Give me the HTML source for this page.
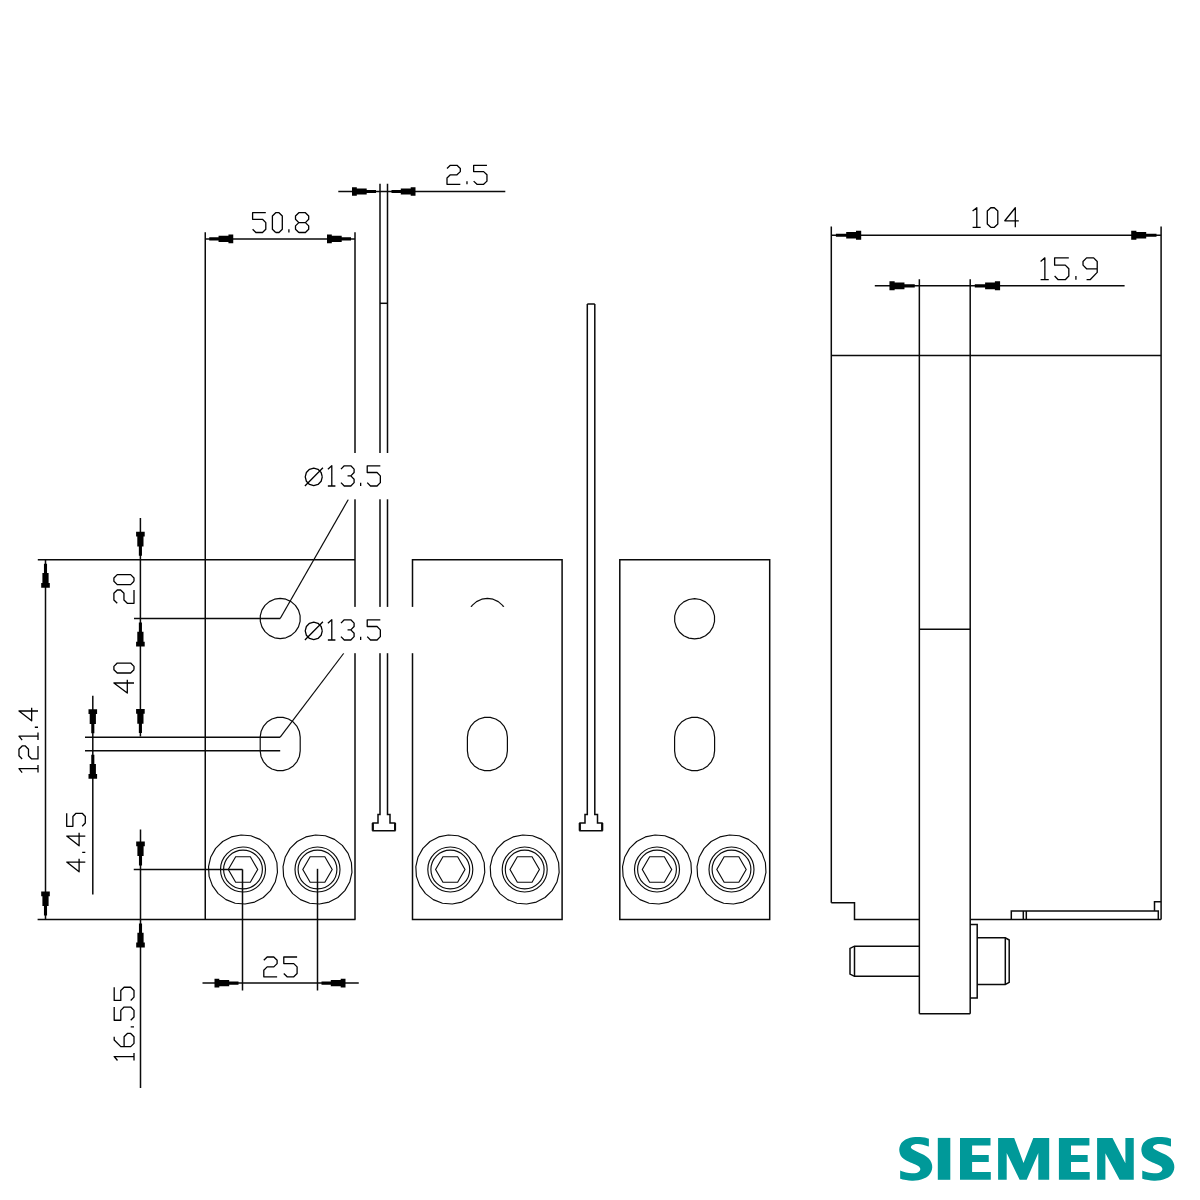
<!DOCTYPE html>
<html><head><meta charset="utf-8"><title>Drawing</title>
<style>html,body{margin:0;padding:0;background:#fff;}body{width:1200px;height:1200px;overflow:hidden;font-family:"Liberation Sans",sans-serif;}svg{display:block;}</style>
</head><body>
<svg width="1200" height="1200" viewBox="0 0 1200 1200" shape-rendering="geometricPrecision">
<rect x="0.00" y="0.00" width="1200.00" height="1200.00" fill="#fff"/>
<line x1="205.25" y1="232.20" x2="205.25" y2="919.40" stroke="#0a0a0a" stroke-width="1.5"/>
<line x1="355.00" y1="232.20" x2="355.00" y2="919.40" stroke="#0a0a0a" stroke-width="1.5"/>
<line x1="37.80" y1="559.70" x2="355.00" y2="559.70" stroke="#0a0a0a" stroke-width="1.5"/>
<line x1="37.60" y1="919.40" x2="355.50" y2="919.40" stroke="#0a0a0a" stroke-width="1.5"/>
<line x1="205.25" y1="238.90" x2="355.00" y2="238.90" stroke="#0a0a0a" stroke-width="1.5"/>
<polygon points="209.25,237.35 218.55,237.35 218.55,235.80 228.45,235.80 228.45,234.60 233.25,234.60 233.25,243.20 228.45,243.20 228.45,242.00 218.55,242.00 218.55,240.45 209.25,240.45" fill="#000"/>
<polygon points="351.00,237.35 341.70,237.35 341.70,235.80 331.80,235.80 331.80,234.60 327.00,234.60 327.00,243.20 331.80,243.20 331.80,242.00 341.70,242.00 341.70,240.45 351.00,240.45" fill="#000"/>
<polygon points="300.10,621.36 298.48,626.85 295.39,631.66 291.07,635.41 285.86,637.79 280.20,638.60 274.54,637.79 269.33,635.41 265.01,631.66 261.92,626.85 260.30,621.36 260.30,615.64 261.92,610.15 265.01,605.34 269.33,601.59 274.54,599.21 280.20,598.40 285.86,599.21 291.07,601.59 295.39,605.34 298.48,610.15 300.10,615.64" stroke="#0a0a0a" stroke-width="1.2" fill="none" stroke-linejoin="round"/>
<polygon points="260.20,737.20 261.01,731.57 263.37,726.39 267.10,722.09 271.89,719.01 277.35,717.40 283.05,717.40 288.51,719.01 293.30,722.09 297.03,726.39 299.39,731.57 300.20,737.20 300.20,750.80 299.39,756.43 297.03,761.61 293.30,765.91 288.51,768.99 283.05,770.60 277.35,770.60 271.89,768.99 267.10,765.91 263.37,761.61 261.01,756.43 260.20,750.80" stroke="#0a0a0a" stroke-width="1.2" fill="none" stroke-linejoin="round"/>
<line x1="134.00" y1="618.50" x2="280.20" y2="618.50" stroke="#0a0a0a" stroke-width="1.5"/>
<line x1="85.00" y1="737.20" x2="280.20" y2="737.20" stroke="#0a0a0a" stroke-width="1.5"/>
<line x1="85.00" y1="750.80" x2="280.20" y2="750.80" stroke="#0a0a0a" stroke-width="1.5"/>
<line x1="280.20" y1="618.50" x2="348.30" y2="499.50" stroke="#0a0a0a" stroke-width="1.2"/>
<line x1="280.20" y1="737.20" x2="343.75" y2="653.25" stroke="#0a0a0a" stroke-width="1.2"/>
<polygon points="277.47,872.46 275.24,882.05 270.40,890.63 263.34,897.49 254.63,902.09 244.98,904.04 235.16,903.20 225.99,899.63 218.19,893.61 212.40,885.65 209.09,876.37 208.53,866.54 210.76,856.95 215.60,848.37 222.66,841.51 231.37,836.91 241.02,834.96 250.84,835.80 260.01,839.37 267.81,845.39 273.60,853.35 276.91,862.63" stroke="#0a0a0a" stroke-width="1.15" fill="none" stroke-linejoin="round"/>
<circle cx="243.00" cy="869.50" r="22.50" stroke="#0a0a0a" stroke-width="1.15" fill="none"/>
<circle cx="243.00" cy="869.50" r="19.40" stroke="#0a0a0a" stroke-width="1.15" fill="none"/>
<polygon points="257.70,869.50 250.35,882.23 235.65,882.23 228.30,869.50 235.65,856.77 250.35,856.77" stroke="#0a0a0a" stroke-width="1.15" fill="none"/>
<polygon points="351.97,872.46 349.74,882.05 344.90,890.63 337.84,897.49 329.13,902.09 319.48,904.04 309.66,903.20 300.49,899.63 292.69,893.61 286.90,885.65 283.59,876.37 283.03,866.54 285.26,856.95 290.10,848.37 297.16,841.51 305.87,836.91 315.52,834.96 325.34,835.80 334.51,839.37 342.31,845.39 348.10,853.35 351.41,862.63" stroke="#0a0a0a" stroke-width="1.15" fill="none" stroke-linejoin="round"/>
<circle cx="317.50" cy="869.50" r="22.50" stroke="#0a0a0a" stroke-width="1.15" fill="none"/>
<circle cx="317.50" cy="869.50" r="19.40" stroke="#0a0a0a" stroke-width="1.15" fill="none"/>
<polygon points="332.20,869.50 324.85,882.23 310.15,882.23 302.80,869.50 310.15,856.77 324.85,856.77" stroke="#0a0a0a" stroke-width="1.15" fill="none"/>
<line x1="133.75" y1="869.40" x2="242.50" y2="869.40" stroke="#0a0a0a" stroke-width="1.5"/>
<line x1="242.50" y1="869.40" x2="242.50" y2="990.50" stroke="#0a0a0a" stroke-width="1.5"/>
<line x1="317.50" y1="868.80" x2="317.50" y2="990.50" stroke="#0a0a0a" stroke-width="1.5"/>
<line x1="202.50" y1="983.10" x2="358.75" y2="983.10" stroke="#0a0a0a" stroke-width="1.5"/>
<polygon points="238.50,981.55 229.20,981.55 229.20,980.00 219.30,980.00 219.30,978.80 214.50,978.80 214.50,987.40 219.30,987.40 219.30,986.20 229.20,986.20 229.20,984.65 238.50,984.65" fill="#000"/>
<polygon points="321.50,981.55 330.80,981.55 330.80,980.00 340.70,980.00 340.70,978.80 345.50,978.80 345.50,987.40 340.70,987.40 340.70,986.20 330.80,986.20 330.80,984.65 321.50,984.65" fill="#000"/>
<line x1="140.40" y1="518.00" x2="140.40" y2="736.50" stroke="#0a0a0a" stroke-width="1.5"/>
<polygon points="138.85,555.70 138.85,546.40 137.30,546.40 137.30,536.50 136.10,536.50 136.10,531.70 144.70,531.70 144.70,536.50 143.50,536.50 143.50,546.40 141.95,546.40 141.95,555.70" fill="#000"/>
<polygon points="138.85,622.50 138.85,631.80 137.30,631.80 137.30,641.70 136.10,641.70 136.10,646.50 144.70,646.50 144.70,641.70 143.50,641.70 143.50,631.80 141.95,631.80 141.95,622.50" fill="#000"/>
<polygon points="138.85,733.00 138.85,723.70 137.30,723.70 137.30,713.80 136.10,713.80 136.10,709.00 144.70,709.00 144.70,713.80 143.50,713.80 143.50,723.70 141.95,723.70 141.95,733.00" fill="#000"/>
<line x1="140.50" y1="829.50" x2="140.50" y2="1088.00" stroke="#0a0a0a" stroke-width="1.5"/>
<polygon points="138.95,865.40 138.95,856.10 137.40,856.10 137.40,846.20 136.20,846.20 136.20,841.40 144.80,841.40 144.80,846.20 143.60,846.20 143.60,856.10 142.05,856.10 142.05,865.40" fill="#000"/>
<polygon points="138.95,923.40 138.95,932.70 137.40,932.70 137.40,942.60 136.20,942.60 136.20,947.40 144.80,947.40 144.80,942.60 143.60,942.60 143.60,932.70 142.05,932.70 142.05,923.40" fill="#000"/>
<line x1="92.80" y1="695.70" x2="92.80" y2="894.50" stroke="#0a0a0a" stroke-width="1.5"/>
<polygon points="91.25,733.20 91.25,723.90 89.70,723.90 89.70,714.00 88.50,714.00 88.50,709.20 97.10,709.20 97.10,714.00 95.90,714.00 95.90,723.90 94.35,723.90 94.35,733.20" fill="#000"/>
<polygon points="91.25,754.80 91.25,764.10 89.70,764.10 89.70,774.00 88.50,774.00 88.50,778.80 97.10,778.80 97.10,774.00 95.90,774.00 95.90,764.10 94.35,764.10 94.35,754.80" fill="#000"/>
<line x1="45.50" y1="559.70" x2="45.50" y2="919.40" stroke="#0a0a0a" stroke-width="1.5"/>
<polygon points="43.95,563.70 43.95,573.00 42.40,573.00 42.40,582.90 41.20,582.90 41.20,587.70 49.80,587.70 49.80,582.90 48.60,582.90 48.60,573.00 47.05,573.00 47.05,563.70" fill="#000"/>
<polygon points="43.95,915.40 43.95,906.10 42.40,906.10 42.40,896.20 41.20,896.20 41.20,891.40 49.80,891.40 49.80,896.20 48.60,896.20 48.60,906.10 47.05,906.10 47.05,915.40" fill="#000"/>
<path d="M380.0,183.8 L380.0,814.6 L378.0,814.6 L378.0,823.0 L373.0,823.0 L373.0,830.7 L394.8,830.7 L394.8,823.0 L390.0,823.0 L390.0,814.6 L387.5,814.6 L387.5,183.8" stroke="#0a0a0a" stroke-width="1.5" fill="none" />
<line x1="372.70" y1="823.00" x2="372.70" y2="830.70" stroke="#0a0a0a" stroke-width="2.0"/>
<line x1="395.10" y1="823.00" x2="395.10" y2="830.70" stroke="#0a0a0a" stroke-width="2.0"/>
<line x1="380.00" y1="303.30" x2="387.50" y2="303.30" stroke="#0a0a0a" stroke-width="1.5"/>
<line x1="338.30" y1="191.50" x2="505.30" y2="191.50" stroke="#0a0a0a" stroke-width="1.5"/>
<polygon points="376.00,189.95 366.70,189.95 366.70,188.40 356.80,188.40 356.80,187.20 352.00,187.20 352.00,195.80 356.80,195.80 356.80,194.60 366.70,194.60 366.70,193.05 376.00,193.05" fill="#000"/>
<polygon points="391.50,189.95 400.80,189.95 400.80,188.40 410.70,188.40 410.70,187.20 415.50,187.20 415.50,195.80 410.70,195.80 410.70,194.60 400.80,194.60 400.80,193.05 391.50,193.05" fill="#000"/>
<path d="M412.5,559.7 L562.1,559.7 L562.1,919.4 L412.5,919.4 Z" stroke="#0a0a0a" stroke-width="1.5" fill="none" />
<polygon points="507.30,621.36 505.68,626.85 502.59,631.66 498.27,635.41 493.06,637.79 487.40,638.60 481.74,637.79 476.53,635.41 472.21,631.66 469.12,626.85 467.50,621.36 467.50,615.64 469.12,610.15 472.21,605.34 476.53,601.59 481.74,599.21 487.40,598.40 493.06,599.21 498.27,601.59 502.59,605.34 505.68,610.15 507.30,615.64" stroke="#0a0a0a" stroke-width="1.2" fill="none" stroke-linejoin="round"/>
<polygon points="467.40,737.20 468.21,731.57 470.57,726.39 474.30,722.09 479.09,719.01 484.55,717.40 490.25,717.40 495.71,719.01 500.50,722.09 504.23,726.39 506.59,731.57 507.40,737.20 507.40,750.80 506.59,756.43 504.23,761.61 500.50,765.91 495.71,768.99 490.25,770.60 484.55,770.60 479.09,768.99 474.30,765.91 470.57,761.61 468.21,756.43 467.40,750.80" stroke="#0a0a0a" stroke-width="1.2" fill="none" stroke-linejoin="round"/>
<polygon points="484.77,872.46 482.54,882.05 477.70,890.63 470.64,897.49 461.93,902.09 452.28,904.04 442.46,903.20 433.29,899.63 425.49,893.61 419.70,885.65 416.39,876.37 415.83,866.54 418.06,856.95 422.90,848.37 429.96,841.51 438.67,836.91 448.32,834.96 458.14,835.80 467.31,839.37 475.11,845.39 480.90,853.35 484.21,862.63" stroke="#0a0a0a" stroke-width="1.15" fill="none" stroke-linejoin="round"/>
<circle cx="450.30" cy="869.50" r="22.50" stroke="#0a0a0a" stroke-width="1.15" fill="none"/>
<circle cx="450.30" cy="869.50" r="19.40" stroke="#0a0a0a" stroke-width="1.15" fill="none"/>
<polygon points="465.00,869.50 457.65,882.23 442.95,882.23 435.60,869.50 442.95,856.77 457.65,856.77" stroke="#0a0a0a" stroke-width="1.15" fill="none"/>
<polygon points="559.17,872.46 556.94,882.05 552.10,890.63 545.04,897.49 536.33,902.09 526.68,904.04 516.86,903.20 507.69,899.63 499.89,893.61 494.10,885.65 490.79,876.37 490.23,866.54 492.46,856.95 497.30,848.37 504.36,841.51 513.07,836.91 522.72,834.96 532.54,835.80 541.71,839.37 549.51,845.39 555.30,853.35 558.61,862.63" stroke="#0a0a0a" stroke-width="1.15" fill="none" stroke-linejoin="round"/>
<circle cx="524.70" cy="869.50" r="22.50" stroke="#0a0a0a" stroke-width="1.15" fill="none"/>
<circle cx="524.70" cy="869.50" r="19.40" stroke="#0a0a0a" stroke-width="1.15" fill="none"/>
<polygon points="539.40,869.50 532.05,882.23 517.35,882.23 510.00,869.50 517.35,856.77 532.05,856.77" stroke="#0a0a0a" stroke-width="1.15" fill="none"/>
<path d="M587.3,304.0 L587.3,814.6 L585.0,814.6 L585.0,823.0 L580.0,823.0 L580.0,830.7 L602.0,830.7 L602.0,823.0 L597.5,823.0 L597.5,814.6 L594.8,814.6 L594.8,304.0" stroke="#0a0a0a" stroke-width="1.5" fill="none" />
<line x1="579.70" y1="823.00" x2="579.70" y2="830.70" stroke="#0a0a0a" stroke-width="2.0"/>
<line x1="602.30" y1="823.00" x2="602.30" y2="830.70" stroke="#0a0a0a" stroke-width="2.0"/>
<line x1="587.30" y1="304.00" x2="594.80" y2="304.00" stroke="#0a0a0a" stroke-width="1.5"/>
<path d="M619.8,559.7 L769.7,559.7 L769.7,919.4 L619.8,919.4 Z" stroke="#0a0a0a" stroke-width="1.5" fill="none" />
<polygon points="714.50,621.66 712.88,627.15 709.79,631.96 705.47,635.71 700.26,638.09 694.60,638.90 688.94,638.09 683.73,635.71 679.41,631.96 676.32,627.15 674.70,621.66 674.70,615.94 676.32,610.45 679.41,605.64 683.73,601.89 688.94,599.51 694.60,598.70 700.26,599.51 705.47,601.89 709.79,605.64 712.88,610.45 714.50,615.94" stroke="#0a0a0a" stroke-width="1.2" fill="none" stroke-linejoin="round"/>
<polygon points="674.60,737.20 675.41,731.57 677.77,726.39 681.50,722.09 686.29,719.01 691.75,717.40 697.45,717.40 702.91,719.01 707.70,722.09 711.43,726.39 713.79,731.57 714.60,737.20 714.60,750.80 713.79,756.43 711.43,761.61 707.70,765.91 702.91,768.99 697.45,770.60 691.75,770.60 686.29,768.99 681.50,765.91 677.77,761.61 675.41,756.43 674.60,750.80" stroke="#0a0a0a" stroke-width="1.2" fill="none" stroke-linejoin="round"/>
<polygon points="691.47,872.46 689.24,882.05 684.40,890.63 677.34,897.49 668.63,902.09 658.98,904.04 649.16,903.20 639.99,899.63 632.19,893.61 626.40,885.65 623.09,876.37 622.53,866.54 624.76,856.95 629.60,848.37 636.66,841.51 645.37,836.91 655.02,834.96 664.84,835.80 674.01,839.37 681.81,845.39 687.60,853.35 690.91,862.63" stroke="#0a0a0a" stroke-width="1.15" fill="none" stroke-linejoin="round"/>
<circle cx="657.00" cy="869.50" r="22.50" stroke="#0a0a0a" stroke-width="1.15" fill="none"/>
<circle cx="657.00" cy="869.50" r="19.40" stroke="#0a0a0a" stroke-width="1.15" fill="none"/>
<polygon points="671.70,869.50 664.35,882.23 649.65,882.23 642.30,869.50 649.65,856.77 664.35,856.77" stroke="#0a0a0a" stroke-width="1.15" fill="none"/>
<polygon points="765.97,872.46 763.74,882.05 758.90,890.63 751.84,897.49 743.13,902.09 733.48,904.04 723.66,903.20 714.49,899.63 706.69,893.61 700.90,885.65 697.59,876.37 697.03,866.54 699.26,856.95 704.10,848.37 711.16,841.51 719.87,836.91 729.52,834.96 739.34,835.80 748.51,839.37 756.31,845.39 762.10,853.35 765.41,862.63" stroke="#0a0a0a" stroke-width="1.15" fill="none" stroke-linejoin="round"/>
<circle cx="731.50" cy="869.50" r="22.50" stroke="#0a0a0a" stroke-width="1.15" fill="none"/>
<circle cx="731.50" cy="869.50" r="19.40" stroke="#0a0a0a" stroke-width="1.15" fill="none"/>
<polygon points="746.20,869.50 738.85,882.23 724.15,882.23 716.80,869.50 724.15,856.77 738.85,856.77" stroke="#0a0a0a" stroke-width="1.15" fill="none"/>
<rect x="301.50" y="453.00" width="219.00" height="46.30" fill="#fff"/>
<rect x="301.50" y="606.90" width="219.00" height="46.30" fill="#fff"/>
<line x1="831.30" y1="226.40" x2="831.30" y2="902.70" stroke="#0a0a0a" stroke-width="1.5"/>
<line x1="1161.10" y1="226.40" x2="1161.10" y2="919.40" stroke="#0a0a0a" stroke-width="1.5"/>
<line x1="831.30" y1="235.30" x2="1161.10" y2="235.30" stroke="#0a0a0a" stroke-width="1.5"/>
<polygon points="835.90,233.75 846.20,233.75 846.20,232.00 856.00,232.00 856.00,230.80 861.20,230.80 861.20,239.80 856.00,239.80 856.00,238.60 846.20,238.60 846.20,236.85 835.90,236.85" fill="#000"/>
<polygon points="1156.50,233.75 1146.20,233.75 1146.20,232.00 1136.40,232.00 1136.40,230.80 1131.20,230.80 1131.20,239.80 1136.40,239.80 1136.40,238.60 1146.20,238.60 1146.20,236.85 1156.50,236.85" fill="#000"/>
<line x1="874.80" y1="285.85" x2="1124.60" y2="285.85" stroke="#0a0a0a" stroke-width="1.5"/>
<polygon points="914.75,284.30 904.45,284.30 904.45,282.55 894.65,282.55 894.65,281.35 889.45,281.35 889.45,290.35 894.65,290.35 894.65,289.15 904.45,289.15 904.45,287.40 914.75,287.40" fill="#000"/>
<polygon points="974.80,284.30 985.10,284.30 985.10,282.55 994.90,282.55 994.90,281.35 1000.10,281.35 1000.10,290.35 994.90,290.35 994.90,289.15 985.10,289.15 985.10,287.40 974.80,287.40" fill="#000"/>
<line x1="919.35" y1="279.30" x2="919.35" y2="1013.70" stroke="#0a0a0a" stroke-width="1.5"/>
<line x1="970.20" y1="279.30" x2="970.20" y2="1013.70" stroke="#0a0a0a" stroke-width="1.5"/>
<line x1="919.35" y1="1013.70" x2="970.20" y2="1013.70" stroke="#0a0a0a" stroke-width="1.5"/>
<line x1="831.30" y1="355.60" x2="1161.10" y2="355.60" stroke="#0a0a0a" stroke-width="1.5"/>
<line x1="919.35" y1="629.30" x2="970.20" y2="629.30" stroke="#0a0a0a" stroke-width="1.5"/>
<path d="M831.3,902.7 L854.5,902.7 L854.5,919.4 L919.35,919.4" stroke="#0a0a0a" stroke-width="1.5" fill="none" />
<line x1="970.20" y1="919.40" x2="1161.10" y2="919.40" stroke="#0a0a0a" stroke-width="1.5"/>
<path d="M1011.3,919.4 L1011.3,911 L1158.3,911 L1158.3,919.4" stroke="#0a0a0a" stroke-width="1.5" fill="none" />
<line x1="1023.30" y1="911.00" x2="1023.30" y2="919.40" stroke="#0a0a0a" stroke-width="1.5"/>
<line x1="1026.30" y1="911.00" x2="1026.30" y2="919.40" stroke="#0a0a0a" stroke-width="1.5"/>
<path d="M1154.5,911 L1154.5,901.7 L1161.1,901.7" stroke="#0a0a0a" stroke-width="1.5" fill="none" />
<path d="M919.35,946.2 L854.5,946.2 L850,948.4 L850,974.1 L854.5,976.3 L919.35,976.3" stroke="#0a0a0a" stroke-width="1.5" fill="none" />
<line x1="854.50" y1="946.20" x2="854.50" y2="976.30" stroke="#0a0a0a" stroke-width="1.5"/>
<path d="M970.2,924.5 L977.2,924.5 L977.2,998 L970.2,998" stroke="#0a0a0a" stroke-width="1.5" fill="none" />
<path d="M977.2,937.8 L1005.3,937.8 L1009.2,940 L1009.2,982.4 L1005.3,984.5 L977.2,984.5" stroke="#0a0a0a" stroke-width="1.5" fill="none" />
<line x1="1005.30" y1="937.80" x2="1005.30" y2="984.50" stroke="#0a0a0a" stroke-width="1.5"/>
<path d="M447.00,168.45L450.33,165.28L456.99,165.28L460.32,168.45L460.32,171.62L456.99,174.79L450.33,174.79L447.00,177.96L447.00,184.30L460.32,184.30 M466.98,184.30L466.98,181.13 M486.96,165.28L473.64,165.28L473.64,171.62L483.63,171.62L486.96,174.79L486.96,181.13L483.63,184.30L476.97,184.30L473.64,181.13" stroke="#000" stroke-width="1.3" fill="none" stroke-linecap="butt" stroke-linejoin="round"/>
<path d="M265.80,212.70L252.60,212.70L252.60,219.30L262.50,219.30L265.80,222.60L265.80,229.20L262.50,232.50L255.90,232.50L252.60,229.20 M275.70,232.50L272.40,229.20L272.40,216.00L275.70,212.70L279.00,212.70L282.30,216.00L282.30,229.20L279.00,232.50L275.70,232.50 M288.90,232.50L288.90,229.20 M298.80,232.50L295.50,229.20L295.50,225.90L298.80,222.60L295.50,219.30L295.50,216.00L298.80,212.70L305.40,212.70L308.70,216.00L308.70,219.30L305.40,222.60L308.70,225.90L308.70,229.20L305.40,232.50L298.80,232.50 M298.80,222.60L305.40,222.60" stroke="#000" stroke-width="1.3" fill="none" stroke-linecap="butt" stroke-linejoin="round"/>
<path d="M972.60,211.00L976.80,207.74L976.80,227.30 M972.60,227.30L980.65,227.30 M990.80,227.30L987.30,224.04L987.30,211.00L990.80,207.74L994.30,207.74L997.80,211.00L997.80,224.04L994.30,227.30L990.80,227.30 M1015.30,227.30L1015.30,207.74L1004.80,220.78L1018.80,220.78" stroke="#000" stroke-width="1.3" fill="none" stroke-linecap="butt" stroke-linejoin="round"/>
<path d="M1040.60,261.50L1044.86,257.86L1044.86,279.70 M1040.60,279.70L1048.76,279.70 M1068.82,257.86L1054.62,257.86L1054.62,265.14L1065.27,265.14L1068.82,268.78L1068.82,276.06L1065.27,279.70L1058.17,279.70L1054.62,276.06 M1075.92,279.70L1075.92,276.06 M1086.57,279.70L1090.12,279.70L1097.22,272.42L1097.22,261.50L1093.67,257.86L1086.57,257.86L1083.02,261.50L1083.02,265.14L1086.57,268.78L1097.22,268.78" stroke="#000" stroke-width="1.3" fill="none" stroke-linecap="butt" stroke-linejoin="round"/>
<path d="M322.28,476.90L321.14,472.52L318.02,469.31L313.76,468.14L309.49,469.31L306.37,472.52L305.23,476.90L306.37,481.28L309.49,484.49L313.76,485.66L318.02,484.49L321.14,481.28L322.28,476.90 M304.90,486.00L322.94,467.80 M327.86,469.15L331.80,465.78L331.80,486.00 M327.86,486.00L335.40,486.00 M340.98,469.15L344.26,465.78L350.82,465.78L354.10,469.15L354.10,472.52L350.82,475.89L347.54,475.89 M350.82,475.89L354.10,479.26L354.10,482.63L350.82,486.00L344.26,486.00L340.98,482.63 M360.66,486.00L360.66,482.63 M380.34,465.78L367.22,465.78L367.22,472.52L377.06,472.52L380.34,475.89L380.34,482.63L377.06,486.00L370.50,486.00L367.22,482.63" stroke="#000" stroke-width="1.3" fill="none" stroke-linecap="butt" stroke-linejoin="round"/>
<path d="M322.28,630.90L321.14,626.52L318.02,623.31L313.76,622.14L309.49,623.31L306.37,626.52L305.23,630.90L306.37,635.28L309.49,638.49L313.76,639.66L318.02,638.49L321.14,635.28L322.28,630.90 M304.90,640.00L322.94,621.80 M327.86,623.15L331.80,619.78L331.80,640.00 M327.86,640.00L335.40,640.00 M340.98,623.15L344.26,619.78L350.82,619.78L354.10,623.15L354.10,626.52L350.82,629.89L347.54,629.89 M350.82,629.89L354.10,633.26L354.10,636.63L350.82,640.00L344.26,640.00L340.98,636.63 M360.66,640.00L360.66,636.63 M380.34,619.78L367.22,619.78L367.22,626.52L377.06,626.52L380.34,629.89L380.34,636.63L377.06,640.00L370.50,640.00L367.22,636.63" stroke="#000" stroke-width="1.3" fill="none" stroke-linecap="butt" stroke-linejoin="round"/>
<path d="M263.80,960.30L267.13,957.00L273.79,957.00L277.12,960.30L277.12,963.60L273.79,966.90L267.13,966.90L263.80,970.20L263.80,976.80L277.12,976.80 M297.10,957.00L283.78,957.00L283.78,963.60L293.77,963.60L297.10,966.90L297.10,973.50L293.77,976.80L287.11,976.80L283.78,973.50" stroke="#000" stroke-width="1.3" fill="none" stroke-linecap="butt" stroke-linejoin="round"/>
<path d="M117.25,603.30L113.90,599.97L113.90,593.31L117.25,589.98L120.60,589.98L123.95,593.31L123.95,599.97L127.30,603.30L134.00,603.30L134.00,589.98 M134.00,581.32L130.65,584.65L117.25,584.65L113.90,581.32L113.90,577.99L117.25,574.66L130.65,574.66L134.00,577.99L134.00,581.32" stroke="#000" stroke-width="1.3" fill="none" stroke-linecap="butt" stroke-linejoin="round"/>
<path d="M134.00,683.01L113.90,683.01L127.30,693.00L127.30,679.68 M134.00,669.69L130.65,673.02L117.25,673.02L113.90,669.69L113.90,666.36L117.25,663.03L130.65,663.03L134.00,666.36L134.00,669.69" stroke="#000" stroke-width="1.3" fill="none" stroke-linecap="butt" stroke-linejoin="round"/>
<path d="M22.15,772.60L18.98,768.70L38.00,768.70 M38.00,772.60L38.00,765.12 M22.15,758.95L18.98,755.70L18.98,749.20L22.15,745.95L25.32,745.95L28.49,749.20L28.49,755.70L31.66,758.95L38.00,758.95L38.00,745.95 M22.15,740.10L18.98,736.20L38.00,736.20 M38.00,740.10L38.00,732.62 M38.00,727.26L34.83,727.26 M38.00,711.01L18.98,711.01L31.66,720.76L31.66,707.76" stroke="#000" stroke-width="1.3" fill="none" stroke-linecap="butt" stroke-linejoin="round"/>
<path d="M85.30,862.05L66.70,862.05L79.10,871.80L79.10,858.80 M85.30,852.30L82.20,852.30 M85.30,836.05L66.70,836.05L79.10,845.80L79.10,832.80 M66.70,813.30L66.70,826.30L72.90,826.30L72.90,816.55L76.00,813.30L82.20,813.30L85.30,816.55L85.30,823.05L82.20,826.30" stroke="#000" stroke-width="1.3" fill="none" stroke-linecap="butt" stroke-linejoin="round"/>
<path d="M117.50,1060.50L114.20,1056.54L134.00,1056.54 M134.00,1060.50L134.00,1052.91 M114.20,1036.74L114.20,1040.04L120.80,1046.64L130.70,1046.64L134.00,1043.34L134.00,1036.74L130.70,1033.44L127.40,1033.44L124.10,1036.74L124.10,1046.64 M134.00,1026.84L130.70,1026.84 M114.20,1007.04L114.20,1020.24L120.80,1020.24L120.80,1010.34L124.10,1007.04L130.70,1007.04L134.00,1010.34L134.00,1016.94L130.70,1020.24 M114.20,987.24L114.20,1000.44L120.80,1000.44L120.80,990.54L124.10,987.24L130.70,987.24L134.00,990.54L134.00,997.14L130.70,1000.44" stroke="#000" stroke-width="1.3" fill="none" stroke-linecap="butt" stroke-linejoin="round"/>
<path d="M928.87,1138.75 C928.17,1138.56 926.14,1137.88 924.67,1137.58 C923.19,1137.29 921.56,1137.11 920.00,1137.00 C918.44,1136.89 916.99,1136.82 915.33,1136.94 C913.68,1137.06 911.83,1137.20 910.08,1137.70 C908.33,1138.20 906.29,1139.01 904.83,1139.92 C903.38,1140.82 902.23,1141.86 901.33,1143.12 C900.44,1144.39 899.79,1146.09 899.47,1147.50 C899.15,1148.91 899.19,1150.22 899.41,1151.58 C899.62,1152.94 899.99,1154.45 900.75,1155.67 C901.51,1156.88 902.60,1157.85 903.96,1158.88 C905.32,1159.90 907.12,1160.89 908.92,1161.79 C910.72,1162.70 913.15,1163.57 914.75,1164.30 C916.35,1165.03 917.62,1165.42 918.54,1166.17 C919.47,1166.92 920.17,1167.94 920.29,1168.79 C920.42,1169.65 919.93,1170.62 919.30,1171.30 C918.67,1171.98 917.74,1172.53 916.50,1172.88 C915.26,1173.22 913.58,1173.39 911.83,1173.34 C910.08,1173.29 907.94,1173.05 906.00,1172.58 C904.06,1172.12 901.14,1170.88 900.17,1170.54 L900.17,1178.71 C901.14,1178.93 904.06,1179.73 906.00,1180.05 C907.94,1180.37 909.79,1180.59 911.83,1180.63 C913.88,1180.67 916.26,1180.62 918.25,1180.28 C920.24,1179.94 922.14,1179.31 923.79,1178.59 C925.44,1177.87 926.93,1177.11 928.17,1175.97 C929.40,1174.82 930.52,1173.15 931.20,1171.71 C931.88,1170.27 932.21,1168.84 932.25,1167.33 C932.29,1165.83 932.02,1164.12 931.43,1162.67 C930.85,1161.21 929.98,1159.85 928.75,1158.58 C927.52,1157.32 925.93,1156.20 924.08,1155.08 C922.24,1153.97 919.47,1152.77 917.67,1151.88 C915.87,1150.98 914.40,1150.40 913.29,1149.72 C912.18,1149.04 911.30,1148.45 911.02,1147.79 C910.73,1147.13 911.09,1146.30 911.60,1145.75 C912.11,1145.20 912.99,1144.74 914.05,1144.47 C915.11,1144.19 916.48,1144.08 917.96,1144.12 C919.44,1144.16 921.10,1144.31 922.92,1144.70 C924.73,1145.09 927.88,1146.16 928.87,1146.45 Z" fill="#009999"/>
<path d="M928.87,1138.75 C928.17,1138.56 926.14,1137.88 924.67,1137.58 C923.19,1137.29 921.56,1137.11 920.00,1137.00 C918.44,1136.89 916.99,1136.82 915.33,1136.94 C913.68,1137.06 911.83,1137.20 910.08,1137.70 C908.33,1138.20 906.29,1139.01 904.83,1139.92 C903.38,1140.82 902.23,1141.86 901.33,1143.12 C900.44,1144.39 899.79,1146.09 899.47,1147.50 C899.15,1148.91 899.19,1150.22 899.41,1151.58 C899.62,1152.94 899.99,1154.45 900.75,1155.67 C901.51,1156.88 902.60,1157.85 903.96,1158.88 C905.32,1159.90 907.12,1160.89 908.92,1161.79 C910.72,1162.70 913.15,1163.57 914.75,1164.30 C916.35,1165.03 917.62,1165.42 918.54,1166.17 C919.47,1166.92 920.17,1167.94 920.29,1168.79 C920.42,1169.65 919.93,1170.62 919.30,1171.30 C918.67,1171.98 917.74,1172.53 916.50,1172.88 C915.26,1173.22 913.58,1173.39 911.83,1173.34 C910.08,1173.29 907.94,1173.05 906.00,1172.58 C904.06,1172.12 901.14,1170.88 900.17,1170.54 L900.17,1178.71 C901.14,1178.93 904.06,1179.73 906.00,1180.05 C907.94,1180.37 909.79,1180.59 911.83,1180.63 C913.88,1180.67 916.26,1180.62 918.25,1180.28 C920.24,1179.94 922.14,1179.31 923.79,1178.59 C925.44,1177.87 926.93,1177.11 928.17,1175.97 C929.40,1174.82 930.52,1173.15 931.20,1171.71 C931.88,1170.27 932.21,1168.84 932.25,1167.33 C932.29,1165.83 932.02,1164.12 931.43,1162.67 C930.85,1161.21 929.98,1159.85 928.75,1158.58 C927.52,1157.32 925.93,1156.20 924.08,1155.08 C922.24,1153.97 919.47,1152.77 917.67,1151.88 C915.87,1150.98 914.40,1150.40 913.29,1149.72 C912.18,1149.04 911.30,1148.45 911.02,1147.79 C910.73,1147.13 911.09,1146.30 911.60,1145.75 C912.11,1145.20 912.99,1144.74 914.05,1144.47 C915.11,1144.19 916.48,1144.08 917.96,1144.12 C919.44,1144.16 921.10,1144.31 922.92,1144.70 C924.73,1145.09 927.88,1146.16 928.87,1146.45 Z" fill="#009999" transform="translate(242.1,0)"/>
<rect x="937.8" y="1137.9" width="12.5" height="41.90" fill="#009999"/>
<path d="M960.0,1137.9 L990.50,1137.9 L990.50,1145.4 L972.10,1145.4 L972.10,1155 L988.75,1155 L988.75,1162.1 L972.10,1162.1 L972.10,1172.1 L990.80,1172.1 L990.80,1179.8 L960.0,1179.8 Z" fill="#009999"/>
<path d="M1058.9,1137.9 L1089.40,1137.9 L1089.40,1145.4 L1071.00,1145.4 L1071.00,1155 L1087.65,1155 L1087.65,1162.1 L1071.00,1162.1 L1071.00,1172.1 L1089.70,1172.1 L1089.70,1179.8 L1058.9,1179.8 Z" fill="#009999"/>
<polygon points="998.1,1137.9 1014.2,1137.9 1023.5,1162.9 1033.3,1137.9 1049.2,1137.9 1049.2,1179.8 1038.3,1179.8 1038.3,1152.9 1026.7,1179.8 1019.6,1179.8 1006.7,1152.9 1006.7,1179.8 998.1,1179.8" fill="#009999"/>
<polygon points="1097.1,1137.9 1112.5,1137.9 1125.4,1163.3 1125.4,1137.9 1133.75,1137.9 1133.75,1179.8 1119.6,1179.8 1105.4,1153.3 1105.4,1179.8 1097.1,1179.8" fill="#009999"/>
</svg>
</body></html>
